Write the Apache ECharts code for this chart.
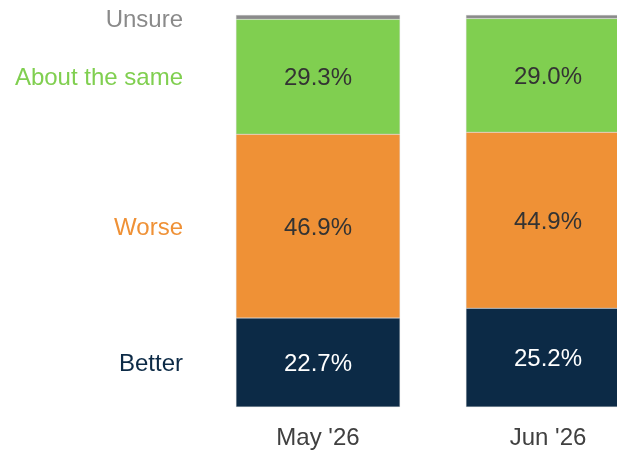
<!DOCTYPE html>
<html>
<head>
<meta charset="utf-8">
<script src="https://cdn.jsdelivr.net/npm/echarts@6/dist/echarts.min.js"></script>
<style>
  html, body { margin: 0; padding: 0; background: #fff; }
  #chart { width: 617px; height: 450px; }
</style>
</head>
<body>
<div id="chart"></div>
<script>
const categories = ["May '26", "Jun '26"];
const better = [22.7, 25.2];
const worse = [46.9, 44.9];
const aboutSame = [29.3, 29.0];
const unsure = [1.1, 0.9];

const seriesDefs = [
  { name: 'Better', data: better, color: '#0c2a46', text: '#ffffff' },
  { name: 'Worse', data: worse, color: '#ef9136', text: '#333333' },
  { name: 'About the same', data: aboutSame, color: '#80cf50', text: '#333333' },
  { name: 'Unsure', data: unsure, color: '#8a8a8a', text: '#333333', hideValue: true, nudge: 3 }
];

const font = 'Liberation Sans, Arial, sans-serif';

const series = [];
seriesDefs.forEach(s => {
  series.push({
    name: s.name,
    type: 'bar',
    stack: 'shown',
    barWidth: 164,
    data: s.data,
    itemStyle: { color: s.color, borderColor: 'rgba(200,200,200,0.6)', borderWidth: 0.5 },
    label: {
      show: !s.hideValue,
      position: 'inside',
      offset: [0, 2],
      color: s.text,
      fontFamily: font,
      fontSize: 24,
      formatter: p => p.value.toFixed(1) + '%'
    },
    emphasis: { disabled: true }
  });
});
// invisible overlay carrying the series names to the left of the first bar
seriesDefs.forEach(s => {
  series.push({
    name: s.name + '-name',
    type: 'bar',
    stack: 'names',
    barWidth: 164,
    barGap: '-100%',
    data: s.data.map((v, i) => ({
      value: v,
      label: {
        show: i === 0,
        position: 'left',
        distance: 53,
        offset: [0, s.nudge || 2],
        formatter: s.name,
        color: s.color,
        fontFamily: font,
        fontSize: 24
      }
    })),
    itemStyle: { color: 'rgba(0,0,0,0)' },
    silent: true,
    z: 1
  });
});

const chart = echarts.init(document.getElementById('chart'));
chart.setOption({
  animation: false,
  grid: { left: 203, top: 15, width: 460, height: 392, outerBoundsMode: 'none' },
  xAxis: {
    type: 'category',
    data: categories,
    axisLine: { show: false },
    axisTick: { show: false },
    axisLabel: { color: '#404040', fontFamily: font, fontSize: 24, margin: 19 }
  },
  yAxis: {
    type: 'value',
    min: 0,
    max: 100,
    show: false
  },
  series: series
});
</script>
</body>
</html>
